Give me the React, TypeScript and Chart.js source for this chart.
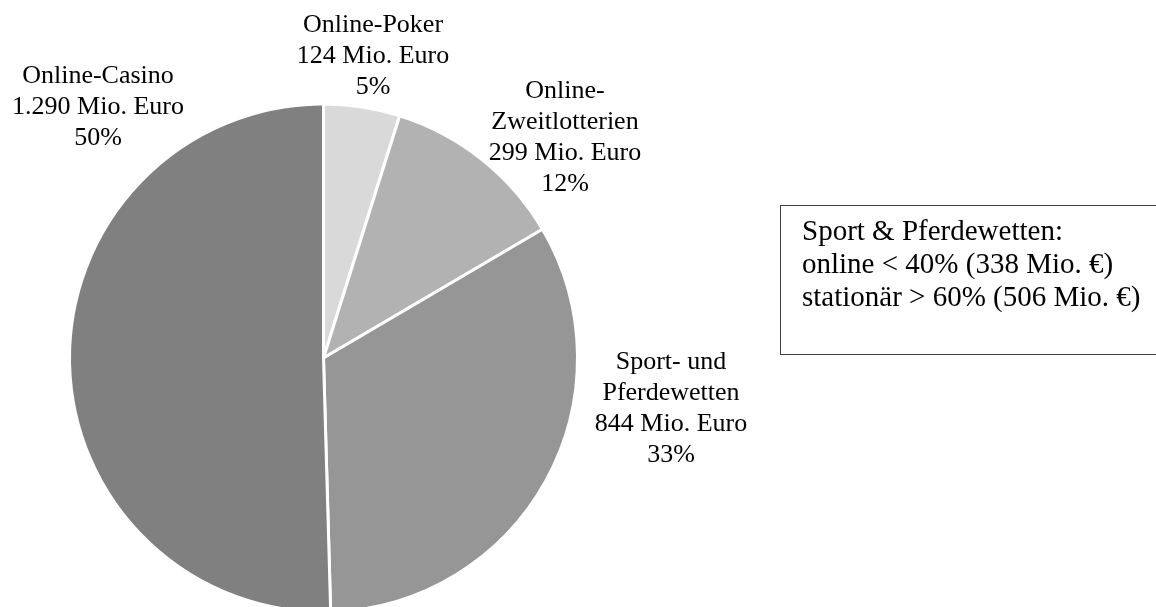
import React, { useEffect, useRef } from "react";
import { Chart, registerables } from "chart.js";

Chart.register(...registerables);

const categories = ["Online-Poker", "Online-Zweitlotterien", "Sport- und Pferdewetten", "Online-Casino"];
const values = [124, 299, 844, 1290];
const labelLines = [
  ["Online-Poker", "124 Mio. Euro", "5%"],
  ["Online-", "Zweitlotterien", "299 Mio. Euro", "12%"],
  ["Sport- und", "Pferdewetten", "844 Mio. Euro", "33%"],
  ["Online-Casino", "1.290 Mio. Euro", "50%"],
];
const boxLines = [
  "Sport & Pferdewetten:",
  "online < 40% (338 Mio. €)",
  "stationär > 60% (506 Mio. €)",
];

const colors = ["#d9d9d9", "#b2b2b2", "#969696", "#808080"];
// layout: label block anchor (centre x, first baseline) relative to the pie centre
const labelOffsets = [
  [49.5, -326],
  [241.5, -260],
  [347.5, 11],
  [-225.5, -275],
];

const W = 1156;
const H = 630;
const CX = 323.5;
const CY = 358;
const AREA = 520;
const FONT = '"Liberation Serif", "Times New Roman", serif';

const labelPlugin = {
  id: "sliceLabels",
  afterDatasetsDraw(chart: any) {
    const meta = chart.getDatasetMeta(0);
    const ctx = chart.ctx;
    ctx.save();
    ctx.fillStyle = "#000";
    ctx.font = "26px " + FONT;
    ctx.textAlign = "center";
    ctx.textBaseline = "alphabetic";
    const lh = 31;
    meta.data.forEach((arc: any, i: number) => {
      const lines = labelLines[i];
      const [ox, oy] = labelOffsets[i];
      const bx = arc.x + ox;
      const by = arc.y + oy;
      lines.forEach((t, j) => ctx.fillText(t, bx, by + j * lh));
    });
    ctx.restore();
  },
};

export default function App() {
  const ref = useRef<HTMLCanvasElement>(null);
  useEffect(() => {
    if (!ref.current) return;
    const chart = new Chart(ref.current, {
      type: "pie",
      data: {
        labels: categories,
        datasets: [
          {
            data: values,
            backgroundColor: colors,
            borderColor: "#ffffff",
            borderWidth: 3,
            hoverOffset: 0,
          },
        ],
      },
      options: {
        responsive: false,
        animation: false,
        radius: 254,
        layout: {
          padding: {
            left: CX - AREA / 2,
            right: W - (CX + AREA / 2),
            top: CY - AREA / 2,
            bottom: H - (CY + AREA / 2),
          },
        },
        plugins: {
          legend: { display: false },
          tooltip: { enabled: false },
        },
        datasets: { pie: { clip: false } as any },
      } as any,
      plugins: [labelPlugin],
    });
    return () => chart.destroy();
  }, []);

  return (
    <div
      style={{
        position: "fixed",
        left: 0,
        top: 0,
        width: W,
        height: 607,
        overflow: "hidden",
        background: "#fff",
      }}
    >
      <canvas ref={ref} width={W} height={H} style={{ width: W, height: H, display: "block" }} />
      <div
        style={{
          position: "absolute",
          left: 780,
          top: 205,
          width: 420,
          height: 150,
          border: "1px solid #404040",
          boxSizing: "border-box",
          padding: "8px 0 0 21px",
          fontFamily: FONT,
          fontSize: 29,
          lineHeight: "33px",
          color: "#000",
          whiteSpace: "nowrap",
        }}
      >
        {boxLines.map((t, i) => (
          <div key={i}>{t}</div>
        ))}
      </div>
    </div>
  );
}
